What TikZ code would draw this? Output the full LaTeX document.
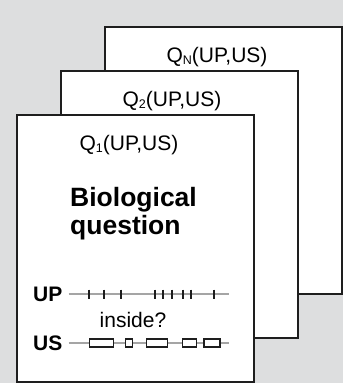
\documentclass[tikz,border=0pt]{standalone}
\usepackage{fontspec}
\setmainfont{Liberation Sans}
\definecolor{panelgray}{RGB}{221,222,223}
\definecolor{trackgray}{RGB}{165,165,165}
\definecolor{inkblack}{RGB}{30,30,30}
\newcommand{\qsub}[1]{\raisebox{-2.5pt}{\fontsize{12.5}{13}\selectfont #1}}
\begin{document}
\begin{tikzpicture}[
        x = 1pt, y = -1pt,
        card/.style   = {draw = inkblack, line width = 1.6pt, fill = white, inner sep = 0pt,
                         minimum width = 237pt, minimum height = 267pt, anchor = north west},
        qlabel/.style = {anchor = base, inner sep = 0pt, font = \fontsize{21}{25}\selectfont},
        biglbl/.style = {anchor = base west, inner sep = 0pt, font = \bfseries\fontsize{26.5}{30}\selectfont},
        trklbl/.style = {anchor = west, inner sep = 0pt, font = \bfseries\fontsize{21}{25}\selectfont},
        track/.style  = {draw = trackgray, line width = 1.4pt},
        tickmark/.style = {draw = inkblack, line width = 2pt},
        segbox/.style = {draw = inkblack, fill = white, line width = 1.3pt}
      ]
      % background
      \fill[panelgray] (0,0) rectangle (343,383);
      \useasboundingbox (0,0) rectangle (343,383);
      % cards, back to front
      \node[card] (cardN) at (104, 26)  {};
      \node[card] (card2) at (60,  70)  {};
      \node[card] (card1) at (16,  114) {};
      % card titles
      \node[qlabel] (qN) at (217, 62)  {Q\qsub{N}(UP,US)};
      \node[qlabel] (q2) at (172, 106) {Q\qsub{2}(UP,US)};
      \node[qlabel] (q1) at (129, 150) {Q\qsub{1}(UP,US)};
      % the question
      \node[biglbl] (bio)  at (70, 206) {Biological};
      \node[biglbl] (ques) at (70, 234) {question};
      % the two tracks
      \node[trklbl] (up) at (33, 294) {UP};
      \node[trklbl] (us) at (33, 343) {US};
      \node[inner sep = 0pt, font = \fontsize{21}{25}\selectfont] (inside) at (133, 320) {inside?};
      \coordinate (upend) at (229, 294);
      \coordinate (usend) at (229, 343);
      \draw[track] ([xshift = 6pt]up.east) -- (upend);
      \draw[track] ([xshift = 6pt]us.east) -- (usend);
      % points on UP
      \foreach \t in {89.3, 104.3, 121, 155, 163.3, 171.7, 183.3, 190.7, 214.3}
        \draw[tickmark] (\t, 289.5) -- (\t, 298.5);
      % segments on US
      \foreach \a/\b in {89.3/113.3, 125.7/132.7, 146.7/167.7, 182.7/196.7, 204/220}
        \draw[segbox] (\a, 339) rectangle (\b, 347);
    \end{tikzpicture}
\end{document}
